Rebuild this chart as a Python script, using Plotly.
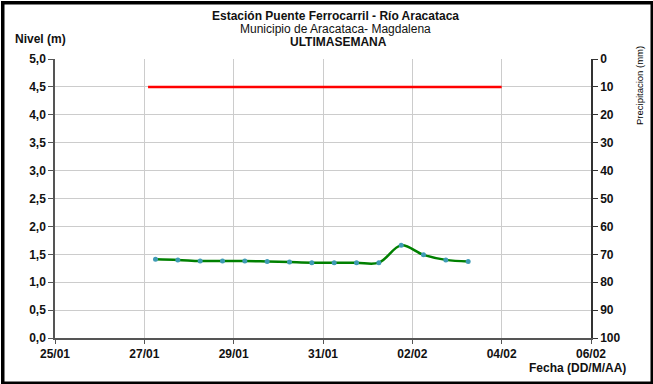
import plotly.graph_objects as go

# ---- data ----
fechas = [
    "2011-01-27 06:00", "2011-01-27 18:00", "2011-01-28 06:00", "2011-01-28 18:00",
    "2011-01-29 06:00", "2011-01-29 18:00", "2011-01-30 06:00", "2011-01-30 18:00",
    "2011-01-31 06:00", "2011-01-31 18:00", "2011-02-01 06:00", "2011-02-01 18:00",
    "2011-02-02 06:00", "2011-02-02 18:00", "2011-02-03 06:00",
]
nivel = [1.41, 1.40, 1.38, 1.38, 1.38, 1.37, 1.36, 1.35, 1.35, 1.35, 1.35, 1.66, 1.49, 1.40, 1.37]
umbral_fechas = ["2011-01-27 02:00", "2011-02-04 00:00"]
umbral_nivel = [4.5, 4.5]
x_range = ["2011-01-25", "2011-02-06"]
y_ticks = [0, 0.5, 1, 1.5, 2, 2.5, 3, 3.5, 4, 4.5, 5]
y2_ticks = [0, 10, 20, 30, 40, 50, 60, 70, 80, 90, 100]

W, H = 653, 384
ML, MR, MT, MB = 55, 62, 59, 46
PW, PH = W - ML - MR, H - MT - MB

FONT = "Liberation Sans, Arial, sans-serif"


def px_x(px):
    return (px - ML) / PW


def px_y(py):
    return 1 - (py - MT) / PH


fig = go.Figure()
fig.add_trace(go.Scatter(
    x=umbral_fechas, y=umbral_nivel, mode="lines",
    line=dict(color="#ff0000", width=2.5), showlegend=False, hoverinfo="skip"))
fig.add_trace(go.Scatter(
    x=fechas, y=nivel, mode="lines+markers",
    line=dict(color="#008000", width=2.5, shape="spline", smoothing=1.0),
    marker=dict(color="#3f9bb5", size=5, line=dict(width=0)),
    showlegend=False))
fig.add_trace(go.Scatter(x=[], y=[], yaxis="y2", showlegend=False))

tf = dict(family=FONT, size=12, color="#111111", weight="bold")

fig.update_layout(
    width=W, height=H,
    margin=dict(l=ML, r=MR, t=MT, b=MB),
    paper_bgcolor="white", plot_bgcolor="white",
    separators=",.",
    font=dict(family=FONT, color="#111111"),
    xaxis=dict(
        type="date", range=x_range, dtick=2 * 86400000, tick0="2011-01-25",
        tickformat="%d/%m", showgrid=True, gridcolor="#cccccc", gridwidth=1,
        showline=True, linecolor="#555555", linewidth=1.5,
        ticks="outside", ticklen=4, tickcolor="#555555",
        tickfont=tf, zeroline=False,
    ),
    yaxis=dict(
        range=[0, 5], tickvals=y_ticks, tickformat=".1f",
        showgrid=True, gridcolor="#cccccc", gridwidth=1,
        showline=True, linecolor="#555555", linewidth=1.5,
        ticks="outside", ticklen=5, tickcolor="#555555",
        tickfont=tf, zeroline=False,
    ),
    yaxis2=dict(
        overlaying="y", side="right", range=[100, 0], tickvals=y2_ticks,
        showgrid=False, showline=True, linecolor="#333333", linewidth=1.5,
        ticks="outside", ticklen=5, tickcolor="#333333",
        tickfont=tf, zeroline=False,
    ),
    annotations=[
        dict(text="<b>Estación Puente Ferrocarril - Río Aracataca</b>",
             xref="paper", yref="paper", x=px_x(335), y=px_y(16),
             showarrow=False, font=dict(size=12, family=FONT), xanchor="center", yanchor="middle"),
        dict(text="Municipio de Aracataca- Magdalena",
             xref="paper", yref="paper", x=px_x(335), y=px_y(28.5),
             showarrow=False, font=dict(size=12, family=FONT), xanchor="center", yanchor="middle"),
        dict(text="<b>ULTIMASEMANA</b>",
             xref="paper", yref="paper", x=px_x(338), y=px_y(42),
             showarrow=False, font=dict(size=12, family=FONT), xanchor="center", yanchor="middle"),
        dict(text="<b>Nivel (m)</b>",
             xref="paper", yref="paper", x=px_x(13), y=px_y(39),
             showarrow=False, font=dict(size=12, family=FONT), xanchor="left", yanchor="middle"),
        dict(text="<b>Fecha (DD/M/AA)</b>",
             xref="paper", yref="paper", x=px_x(628), y=px_y(368),
             showarrow=False, font=dict(size=12, family=FONT), xanchor="right", yanchor="middle"),
        dict(text="Precipitacion (mm)",
             xref="paper", yref="paper", x=px_x(639), y=px_y(86),
             showarrow=False, textangle=-90, font=dict(size=9.5, family=FONT, color="#000000"),
             xanchor="center", yanchor="middle"),
        dict(text="", xref="paper", yref="paper",
             x=px_x(W / 2 + 0.5), y=px_y(H / 2 + 0.5),
             xanchor="center", yanchor="middle", showarrow=False,
             width=W - 7, height=H - 7, bordercolor="black", borderwidth=3.5, borderpad=0),
    ],
)

fig.write_html(
    "out.html",
    config={"displayModeBar": False},
    post_script="document.body.style.margin='0px';document.body.style.overflow='hidden';",
)
